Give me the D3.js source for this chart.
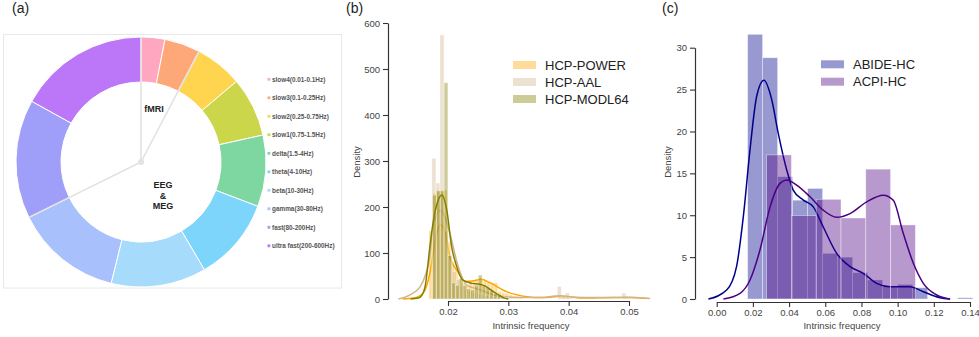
<!DOCTYPE html>
<html>
<head>
<meta charset="utf-8">
<script src="https://cdn.jsdelivr.net/npm/d3@7"></script>
<style>
  body { margin: 0; background: #fff; }
  svg { font-family: "Liberation Sans", Arial, Helvetica, sans-serif; }
</style>
</head>
<body>
<svg id="fig" width="979" height="337"></svg>
<script>
// ---- (a) frequency bands donut
const bandNames = ['slow4(0.01-0.1Hz)', 'slow3(0.1-0.25Hz)', 'slow2(0.25-0.75Hz)', 'slow1(0.75-1.5Hz)',
  'delta(1.5-4Hz)', 'theta(4-10Hz)', 'beta(10-30Hz)', 'gamma(30-80Hz)', 'fast(80-200Hz)', 'ultra fast(200-600Hz)'];
const bandShares = [2, 3, 4, 5, 6, 7, 8, 9, 10, 11];
const bandColors = ['#ffa6c0', '#ffa877', '#ffd550', '#ccd64a', '#7ed6a0', '#7dd5fb', '#a7dbfc', '#a8c1fc', '#9f9ef8', '#bb77f8'];
// slice index where each modality group starts (divider lines)
const groupBreaks = [0, 2, 8];

// ---- (b) HCP intrinsic frequency
const hcpSeries = ['HCP-POWER', 'HCP-AAL', 'HCP-MODL64'];
const hcpColors = ['#ffa500', '#d2b48c', '#808000'];
const hcpBinStart = [0.01685, 0.01733, 0.01746];
const hcpBinWidth = [0.0006, 0.00067, 0.00063];
const powerHist = [148, 230, 237, 237, 237, 125, 80, 62, 45, 35, 32, 36, 40, 42, 42, 40, 38, 36, 35, 16, 14, 12, 9, 6, 4, 3,
  0, 0, 0, 0, 0, 0, 0, 0, 0, 0, 4, 5, 3, 0, 0, 0, 0, 0, 0, 0, 0, 0, 0, 0, 0, 0, 0, 0, 4];
const aalHist = [306, 252, 574, 148, 95, 60, 42, 30, 22, 18, 15, 12, 10, 8, 7, 6, 5, 4, 3,
  0, 0, 0, 0, 0, 0, 0, 0, 0, 0, 0, 0, 27, 6, 13, 3, 0, 0, 0, 0, 0, 0, 0, 0, 0, 0, 0, 0, 13];
const modlHist = [226, 235, 235, 470, 95, 35, 30, 45, 30, 22, 20, 30, 52, 30, 25, 18, 12, 8, 5, 3];
const powerKde = [[0.0125, 0], [0.0143, 2], [0.0159, 13], [0.0170, 56], [0.0180, 135], [0.0188, 162], [0.0196, 140],
  [0.0203, 92], [0.0217, 58], [0.0228, 38], [0.0240, 39], [0.0255, 43], [0.0270, 35], [0.0297, 16], [0.0331, 5],
  [0.0353, 3], [0.0370, 4], [0.0386, 6], [0.0400, 5], [0.0419, 2], [0.0450, 2.5], [0.0474, 3], [0.0500, 3], [0.0530, 1]];
const aalKde = [[0.0118, 0], [0.0137, 9], [0.0154, 27], [0.0162, 50], [0.0170, 92], [0.0175, 156], [0.0188, 193],
  [0.0203, 143], [0.0217, 70], [0.0231, 30], [0.0253, 20], [0.0281, 7], [0.0308, 4], [0.0350, 3], [0.0386, 7],
  [0.0410, 4], [0.0441, 3], [0.0470, 3], [0.0496, 4], [0.0535, 1]];
const modlKde = [[0.0138, 0], [0.0150, 2], [0.0154, 4], [0.0162, 27], [0.0170, 114], [0.0176, 172], [0.0183, 212],
  [0.0190, 226], [0.0198, 193], [0.0206, 114], [0.0214, 72], [0.0225, 41], [0.0240, 34], [0.0252, 32], [0.0262, 28],
  [0.0275, 16], [0.0292, 3], [0.0300, 0]];
const hcpXTicks = [0.02, 0.03, 0.04, 0.05];
const hcpYTicks = [0, 100, 200, 300, 400, 500, 600];

// ---- (c) ABIDE / ACPI
const siteSeries = ['ABIDE-HC', 'ACPI-HC'];
const siteColors = ['#00008b', '#4b0082'];
const siteBinStart = [0.0171, 0.0276];
const siteBinWidth = [0.00829, 0.0137];
const abideHist = [31.6, 28.8, 14.6, 11.8, 13.2, 5.45, 5.0, 3.15, 2.27, 1.47, 1.75, 1.35, 0, 0, 0.15];
const acpiHist = [17.2, 9.95, 11.9, 9.67, 15.5, 8.84];
const abideKde = [[-0.0046, 0], [0.0055, 1.07], [0.011, 3.9], [0.0147, 9.8], [0.0184, 17.8], [0.0221, 24.2], [0.0261, 26.1],
  [0.0304, 23.8], [0.034, 19.8], [0.0387, 15.4], [0.0423, 13.0], [0.0479, 11.8], [0.0534, 11.0], [0.0589, 8.6],
  [0.0663, 5.45], [0.0737, 3.86], [0.081, 3.07], [0.0884, 1.87], [0.0958, 1.47], [0.1068, 1.47], [0.1142, 0.87],
  [0.1234, 0.16], [0.129, 0]];
const acpiKde = [[0.0037, 0], [0.0129, 0.68], [0.0184, 2.27], [0.0239, 5.85], [0.0295, 11.0], [0.035, 13.8], [0.0387, 14.2],
  [0.0442, 13.6], [0.0516, 12.2], [0.0589, 10.6], [0.0663, 9.75], [0.0737, 10.2], [0.0829, 11.6], [0.0921, 12.4],
  [0.0976, 11.8], [0.1031, 7.84], [0.1087, 4.26], [0.1142, 1.87], [0.1216, 0.48], [0.129, 0]];
const siteXTicks = [0, 0.02, 0.04, 0.06, 0.08, 0.10, 0.12, 0.14];
const siteYTicks = [0, 5, 10, 15, 20, 25, 30];

const svg = d3.select('#fig');

// panel letters
[['(a)', 12], ['(b)', 346], ['(c)', 662]].forEach(([t, x]) => {
  svg.append('text').attr('x', x).attr('y', 13).attr('font-size', 14).attr('fill', '#222').text(t);
});

// ================= (a) =================
const cx = 141, cy = 162, rOuter = 125, rInner = 80;
svg.append('rect')
  .attr('x', 3.5).attr('y', 34.5).attr('width', 338).attr('height', 253.5)
  .attr('fill', 'none').attr('stroke', '#e8e8e8');

const pie = d3.pie().sort(null).value(d => d);
const arcs = pie(bandShares);
const arc = d3.arc().innerRadius(rInner).outerRadius(rOuter);
const donut = svg.append('g').attr('transform', `translate(${cx},${cy})`);

donut.selectAll('path')
  .data(arcs)
  .enter()
  .append('path')
  .attr('d', arc)
  .attr('fill', (d, i) => bandColors[i])
  .attr('stroke', '#fff')
  .attr('stroke-width', 1);

// modality dividers
groupBreaks.forEach(i => {
  const p = d3.pointRadial(arcs[i].startAngle, rOuter);
  donut.append('line')
    .attr('x1', 0).attr('y1', 0).attr('x2', p[0]).attr('y2', p[1])
    .attr('stroke', '#e2e2e2').attr('stroke-width', 1.6);
});
donut.append('circle').attr('r', 3).attr('fill', '#e2e2e2');

svg.append('text').attr('x', 154).attr('y', 112).attr('text-anchor', 'middle')
  .attr('font-size', 9).attr('font-weight', 'bold').attr('fill', '#222').text('fMRI');
['EEG', '&', 'MEG'].forEach((t, i) => {
  svg.append('text').attr('x', 163).attr('y', 188 + i * 10.5).attr('text-anchor', 'middle')
    .attr('font-size', 9).attr('font-weight', 'bold').attr('fill', '#222').text(t);
});

const bandLegend = svg.append('g');
bandNames.forEach((name, i) => {
  const y = 79.3 + i * 18.5;
  bandLegend.append('rect').attr('x', 267.5).attr('y', y - 1.4).attr('width', 2.8).attr('height', 2.8)
    .attr('fill', bandColors[i]);
  bandLegend.append('text').attr('x', 272).attr('y', y).attr('dy', '0.35em')
    .attr('font-size', 6.4).attr('font-weight', 'bold').attr('fill', '#555').text(name);
});

// ================= shared helpers =================
function binsOf(start, width, heights) {
  return heights.map((h, i) => ({ x0: start + i * width, x1: start + (i + 1) * width, h }))
    .filter(d => d.h > 0);
}

function drawHist(g, x, y, bins, color) {
  g.append('g').selectAll('rect')
    .data(bins)
    .enter()
    .append('rect')
    .attr('x', d => x(d.x0))
    .attr('y', d => y(d.h))
    .attr('width', d => x(d.x1) - x(d.x0))
    .attr('height', d => y(0) - y(d.h))
    .attr('fill', color)
    .attr('fill-opacity', 0.4)
    .attr('stroke', '#fff')
    .attr('stroke-opacity', 0.55)
    .attr('stroke-width', 0.7);
}

function drawKde(g, x, y, pts, color) {
  const line = d3.line().x(d => x(d[0])).y(d => y(d[1])).curve(d3.curveMonotoneX);
  g.append('path').attr('d', line(pts))
    .attr('fill', 'none').attr('stroke', color).attr('stroke-width', 1.5);
}

function styleAxis(g) {
  g.select('.domain').attr('stroke', '#333').attr('stroke-width', 1.2);
  g.selectAll('.tick line').attr('stroke', '#333').attr('stroke-width', 1.1);
  g.selectAll('.tick text').attr('fill', '#444').attr('font-size', 9.5)
    .attr('font-family', '"Liberation Sans", Arial, sans-serif');
}

function drawLegend(g, x, y0, step, names, colors) {
  names.forEach((n, i) => {
    const y = y0 + i * step;
    g.append('rect').attr('x', x).attr('y', y - 4).attr('width', 23).attr('height', 8)
      .attr('fill', colors[i]).attr('fill-opacity', 0.4);
    g.append('text').attr('x', x + 32).attr('y', y).attr('dy', '0.36em')
      .attr('font-size', 13).attr('fill', '#222').text(n);
  });
}

// ================= (b) =================
const bX = d3.scaleLinear().domain([0.02, 0.05]).range([448, 629]);
const bY = d3.scaleLinear().domain([0, 600]).range([299, 23]);
const bG = svg.append('g');
const hcpHists = [powerHist, aalHist, modlHist];
const hcpKdes = [powerKde, aalKde, modlKde];
hcpSeries.forEach((s, k) => {
  drawHist(bG, bX, bY, binsOf(hcpBinStart[k], hcpBinWidth[k], hcpHists[k]), hcpColors[k]);
  drawKde(bG, bX, bY, hcpKdes[k], hcpColors[k]);
});

const bxAxis = svg.append('g').attr('transform', 'translate(0,301)')
  .call(d3.axisBottom(bX).tickValues(hcpXTicks).tickFormat(d3.format('.2f')).tickSize(5).tickSizeOuter(0).tickPadding(2));
styleAxis(bxAxis);
const byAxis = svg.append('g').attr('transform', 'translate(388,0)')
  .call(d3.axisLeft(bY).tickValues(hcpYTicks).tickSize(5).tickSizeOuter(0).tickPadding(3));
styleAxis(byAxis);

svg.append('text').attr('x', 531).attr('y', 328.5).attr('text-anchor', 'middle')
  .attr('font-size', 9.5).attr('fill', '#444').text('Intrinsic frequency');
svg.append('text').attr('transform', 'translate(360,162) rotate(-90)').attr('text-anchor', 'middle')
  .attr('font-size', 9.5).attr('fill', '#444').text('Density');

drawLegend(svg.append('g'), 513, 65, 17, hcpSeries, hcpColors);

// ================= (c) =================
const cX = d3.scaleLinear().domain([0, 0.14]).range([716.7, 970]);
const cY = d3.scaleLinear().domain([0, 30]).range([299, 47.7]);
const cG = svg.append('g');
const siteHists = [abideHist, acpiHist];
const siteKdes = [abideKde, acpiKde];
siteSeries.forEach((s, k) => {
  drawHist(cG, cX, cY, binsOf(siteBinStart[k], siteBinWidth[k], siteHists[k]), siteColors[k]);
  drawKde(cG, cX, cY, siteKdes[k], siteColors[k]);
});

const cxAxis = svg.append('g').attr('transform', 'translate(0,302)')
  .call(d3.axisBottom(cX).tickValues(siteXTicks).tickFormat(d3.format('.2f')).tickSize(5).tickSizeOuter(0).tickPadding(2));
styleAxis(cxAxis);
const cyAxis = svg.append('g').attr('transform', 'translate(695,0)')
  .call(d3.axisLeft(cY).tickValues(siteYTicks).tickSize(5).tickSizeOuter(0).tickPadding(3));
styleAxis(cyAxis);

svg.append('text').attr('x', 842).attr('y', 329).attr('text-anchor', 'middle')
  .attr('font-size', 9.5).attr('fill', '#444').text('Intrinsic frequency');
svg.append('text').attr('transform', 'translate(671,162) rotate(-90)').attr('text-anchor', 'middle')
  .attr('font-size', 9.5).attr('fill', '#444').text('Density');

drawLegend(svg.append('g'), 821, 64.3, 17.4, siteSeries, siteColors);
</script>
</body>
</html>
